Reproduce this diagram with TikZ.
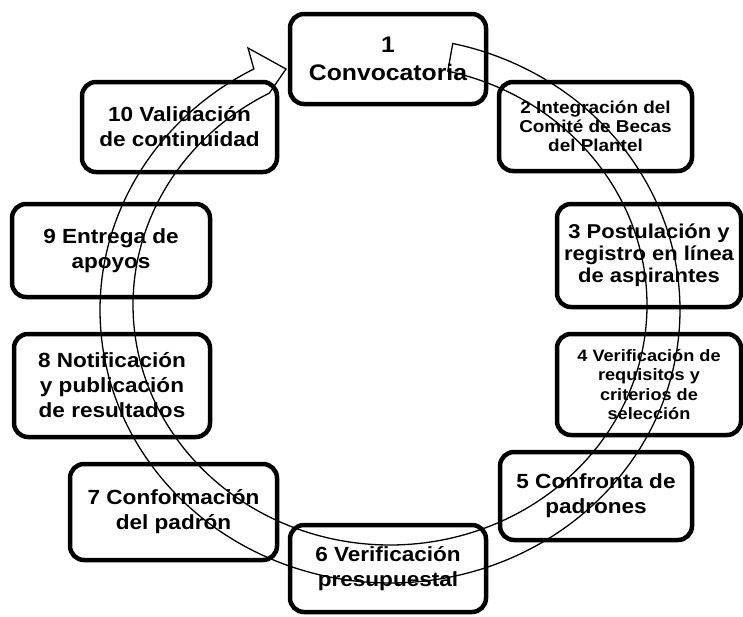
\documentclass[tikz,border=0pt]{standalone}
\usepackage{fontspec}
\setmainfont[FakeStretch=1.1]{Liberation Sans}
\tikzset{
  paso/.style={draw, line width=4.5pt, rounded corners=14pt, fill=white, align=center,
    inner sep=2pt, font=\fontsize{20.5}{25}\selectfont\bfseries},
  flecha/.style={draw, line width=1.3pt, line join=miter}
}
\begin{document}
\begin{tikzpicture}[x=1pt, y=-1pt]
        \useasboundingbox (0,0) rectangle (743,616);
        \node[paso, minimum width=196pt, minimum height=90pt, font=\fontsize{22.5}{28}\selectfont\bfseries] (conv) at (388,59) {1\\Convocatoria};
        \node[paso, minimum width=193pt, minimum height=89pt, font=\fontsize{17.2}{19}\selectfont\bfseries] (comite) at (595.5,126.5) {2 Integración del\\Comité de Becas\\del Plantel};
        \node[paso, minimum width=184pt, minimum height=103pt, font=\fontsize{20}{22}\selectfont\bfseries] (postul) at (649,255.5) {3 Postulación y\\registro en línea\\de aspirantes};
        \node[paso, minimum width=184pt, minimum height=101pt, font=\fontsize{16.5}{19.5}\selectfont\bfseries] (requis) at (649,384.5) {4 Verificación de\\requisitos y\\criterios de\\selección};
        \node[paso, minimum width=192pt, minimum height=88pt] (confr) at (596,496) {5 Confronta de\\padrones};
        \node[paso, minimum width=196pt, minimum height=87pt] (presup) at (388,568.5) {6 Verificación\\presupuestal};
        \node[paso, minimum width=207pt, minimum height=96pt] (padron) at (173.5,512) {7 Conformación\\del padrón};
        \node[paso, minimum width=196pt, minimum height=103pt] (notif) at (112,385.5) {8 Notificación\\y publicación\\de resultados};
        \node[paso, minimum width=198pt, minimum height=93pt] (apoyos) at (111,250.5) {9 Entrega de\\apoyos};
        \node[paso, minimum width=195pt, minimum height=90pt] (valid) at (179.5,127) {10 Validación\\de continuidad};
        \draw[flecha] (286,69) -- (248,48)
              -- plot[smooth,domain=-242:77.5,samples=140] ({390+290*cos(\x)}, {310-273*sin(\x)})
              -- plot[smooth,domain=-77:242,samples=140] ({390+257*cos(\x)}, {305+240*sin(\x)})
              -- cycle;
\end{tikzpicture}
\end{document}
